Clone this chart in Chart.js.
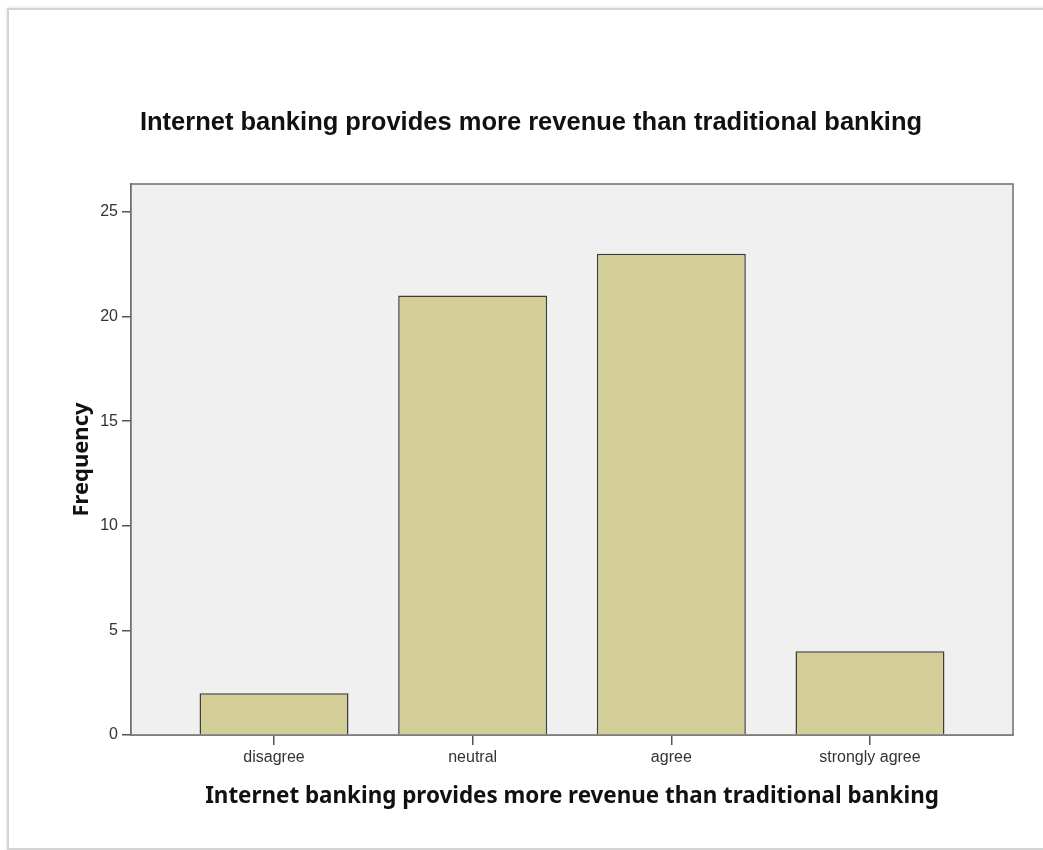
<!DOCTYPE html>
<html>
<head>
<meta charset="utf-8">
<script src="https://cdn.jsdelivr.net/npm/chart.js@4"></script>
<style>
  body { margin: 0; background: #fff; }
  #wrap { position: relative; width: 1043px; height: 850px; overflow: hidden; }
  #frame {
    position: absolute; left: 7px; top: 8px; width: 1050px; height: 838px;
    border: 2px solid #d4d4d4; box-shadow: 1px 1px 4px rgba(0,0,0,0.25);
  }
  canvas { position: absolute; left: 0; top: 0; }
</style>
</head>
<body>
<div id="wrap">
  <div id="frame"></div>
  <canvas id="chart" width="1043" height="850"></canvas>
</div>
<script>
// categories and counts
const categories = ['disagree', 'neutral', 'agree', 'strongly agree'];
const frequencies = [2, 21, 23, 4];
const yTicks = [0, 5, 10, 15, 20, 25];

const chartTitle = 'Internet banking provides more revenue than traditional banking';

// grey plot background + frame around the plot area
const plotFrame = {
  id: 'plotFrame',
  beforeDatasetsDraw(chart) {
    const { ctx, chartArea: a } = chart;
    ctx.save();
    ctx.fillStyle = '#f0f0f0';
    ctx.fillRect(a.left, a.top, a.right - a.left, a.bottom - a.top);
    ctx.restore();
  },
  afterDatasetsDraw(chart) {
    const { ctx, chartArea: a } = chart;
    ctx.save();
    ctx.strokeStyle = '#6e6e6e';
    ctx.lineWidth = 1.5;
    ctx.strokeRect(a.left, a.top, a.right - a.left, a.bottom - a.top);
    ctx.restore();
  }
};

const points = categories.map((c, i) => ({ x: i + 1, y: frequencies[i] }));

new Chart(document.getElementById('chart'), {
  type: 'bar',
  data: {
    datasets: [{
      label: 'Frequency',
      data: points,
      backgroundColor: '#d3ce98',
      borderColor: '#3c3c3c',
      borderWidth: 1.5,
      barPercentage: 0.75,
      categoryPercentage: 1
    }]
  },
  options: {
    responsive: false,
    animation: false,
    layout: { padding: { left: 49, right: 30, top: 0, bottom: 0 } },
    plugins: {
      legend: { display: false },
      tooltip: { enabled: false },
      title: {
        display: true,
        text: chartTitle,
        color: '#111',
        font: { family: 'Liberation Sans, Arial, sans-serif', size: 25.5, weight: 'bold' },
        padding: { top: 108, bottom: 45.4 }
      }
    },
    scales: {
      x: {
        type: 'linear',
        offset: false,
        min: 0.28,
        max: 4.72,
        afterFit: s => { s.height = 115; },
        afterBuildTicks: s => { s.ticks = categories.map((c, i) => ({ value: i + 1 })); },
        ticks: {
          callback: v => categories[v - 1] || '',
          color: '#333',
          font: { family: 'Liberation Sans, Arial, sans-serif', size: 16 },
          padding: 3,
          maxRotation: 0
        },
        grid: { offset: false, drawOnChartArea: false, drawTicks: true, tickLength: 10, color: '#555', lineWidth: 1.5 },
        border: { display: true, color: '#6e6e6e', width: 1.5 },
        title: {
          display: true,
          text: chartTitle,
          color: '#111',
          font: { family: 'Noto Sans, sans-serif', size: 22.4, weight: 'bold' },
          padding: { top: 0, bottom: 40 }
        }
      },
      y: {
        min: 0,
        max: 26.33,
        afterFit: s => { s.width = 82; },
        afterBuildTicks: s => { s.ticks = yTicks.map(v => ({ value: v })); },
        ticks: {
          color: '#333',
          font: { family: 'Liberation Sans, Arial, sans-serif', size: 16 },
          padding: 4
        },
        grid: { drawOnChartArea: false, drawTicks: true, tickLength: 9, color: '#555', lineWidth: 1.5 },
        border: { display: true, color: '#6e6e6e', width: 1.5 },
        title: {
          display: true,
          text: 'Frequency',
          color: '#111',
          font: { family: 'Noto Sans, sans-serif', size: 22, weight: 'bold' },
          padding: { top: 20, bottom: 0 }
        }
      }
    }
  },
  plugins: [plotFrame]
});
</script>
</body>
</html>
